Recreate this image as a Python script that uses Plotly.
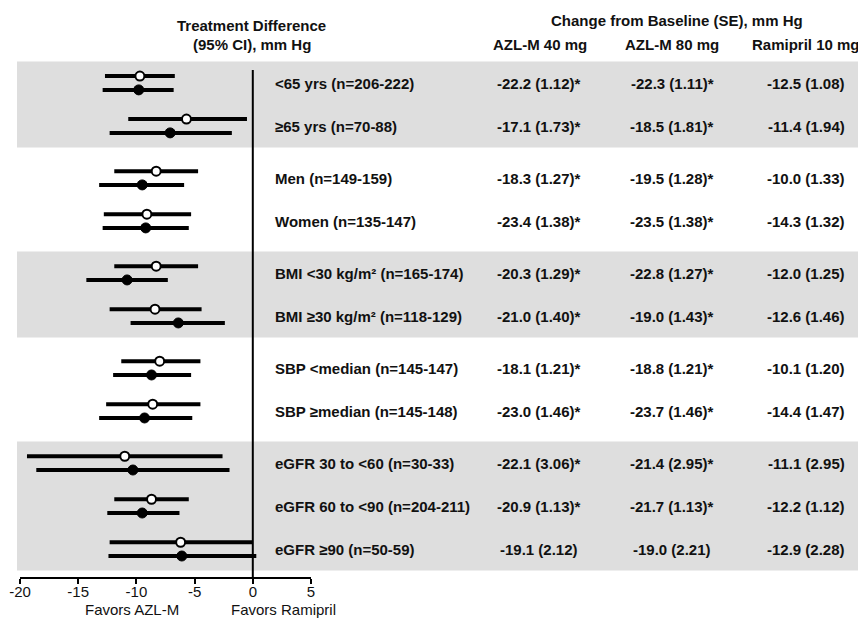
import plotly.graph_objects as go

# ---------------- data ----------------
subgroups = ["<65 yrs (n=206-222)", "≥65 yrs (n=70-88)",
             "Men (n=149-159)", "Women (n=135-147)",
             "BMI <30 kg/m² (n=165-174)", "BMI ≥30 kg/m² (n=118-129)",
             "SBP <median (n=145-147)", "SBP ≥median (n=145-148)",
             "eGFR 30 to <60 (n=30-33)", "eGFR 60 to <90 (n=204-211)", "eGFR ≥90 (n=50-59)"]
group_sizes = [2, 2, 2, 2, 3]
shaded_groups = [0, 2, 4]

# AZL-M 40 mg minus ramipril (open circles)
d40 = [-9.7, -5.7, -8.3, -9.1, -8.3, -8.4, -8.0, -8.6, -11.0, -8.7, -6.2]
d40_lo = [-12.7, -10.7, -11.9, -12.8, -11.9, -12.3, -11.3, -12.6, -19.4, -11.9, -12.3]
d40_hi = [-6.7, -0.5, -4.7, -5.3, -4.7, -4.4, -4.5, -4.5, -2.6, -5.5, 0.0]
# AZL-M 80 mg minus ramipril (filled circles)
d80 = [-9.8, -7.1, -9.5, -9.2, -10.8, -6.4, -8.7, -9.3, -10.3, -9.5, -6.1]
d80_lo = [-12.9, -12.3, -13.2, -12.9, -14.3, -10.5, -12.0, -13.2, -18.6, -12.5, -12.4]
d80_hi = [-6.8, -1.8, -5.9, -5.5, -7.3, -2.4, -5.3, -5.2, -2.0, -6.3, 0.3]

azl40 = ["-22.2 (1.12)*", "-17.1 (1.73)*", "-18.3 (1.27)*", "-23.4 (1.38)*", "-20.3 (1.29)*",
         "-21.0 (1.40)*", "-18.1 (1.21)*", "-23.0 (1.46)*", "-22.1 (3.06)*", "-20.9 (1.13)*", "-19.1 (2.12)"]
azl80 = ["-22.3 (1.11)*", "-18.5 (1.81)*", "-19.5 (1.28)*", "-23.5 (1.38)*", "-22.8 (1.27)*",
         "-19.0 (1.43)*", "-18.8 (1.21)*", "-23.7 (1.46)*", "-21.4 (2.95)*", "-21.7 (1.13)*", "-19.0 (2.21)"]
ram10 = ["-12.5 (1.08)", "-11.4 (1.94)", "-10.0 (1.33)", "-14.3 (1.32)", "-12.0 (1.25)",
         "-12.6 (1.46)", "-10.1 (1.20)", "-14.4 (1.47)", "-11.1 (2.95)", "-12.2 (1.12)", "-12.9 (2.28)"]

x_ticks = [-20, -15, -10, -5, 0, 5]
col_headers = ["AZL-M 40 mg", "AZL-M 80 mg", "Ramipril 10 mg"]

# ---------------- layout geometry ----------------
PAGE_OFF = 8            # default body margin of the html page
W, H = 866 - PAGE_OFF, 622 - PAGE_OFF
ROW_PX = 43.0
FIRST_PX = 83.0 - PAGE_OFF
AXIS_PX = 577.0 - PAGE_OFF
GAP = 0.21
OFF = 0.16

slots = []
group_bounds = []
pos = 0.0
for gi, n in enumerate(group_sizes):
    start = pos
    for k in range(n):
        slots.append(pos)
        pos += 1.0
    group_bounds.append((start, pos - 1.0))
    pos += GAP

y_bottom = (AXIS_PX - FIRST_PX) / ROW_PX
y_top = -FIRST_PX / ROW_PX

def py(px):
    # target page pixel -> y slot units
    return (px - PAGE_OFF - FIRST_PX) / ROW_PX

def pxx(px):
    # target page pixel -> paper x
    return (px - PAGE_OFF) / W

def pyp(px):
    # target page pixel -> paper y
    return (H - (px - PAGE_OFF)) / H

FONT = "Liberation Sans, Arial, Helvetica, sans-serif"

fig = go.Figure()

y_open = [s - OFF for s in slots]
y_fill = [s + OFF for s in slots]

fig.add_trace(go.Scatter(
    x=d40, y=y_open, mode="markers",
    marker=dict(symbol="circle", size=9, color="white", line=dict(color="black", width=2)),
    error_x=dict(type="data", symmetric=False,
                 array=[h - p for h, p in zip(d40_hi, d40)],
                 arrayminus=[p - l for p, l in zip(d40, d40_lo)],
                 thickness=4, width=0, color="black"),
    showlegend=False, hoverinfo="x"))
fig.add_trace(go.Scatter(
    x=d80, y=y_fill, mode="markers",
    marker=dict(symbol="circle", size=10, color="black", line=dict(color="black", width=1)),
    error_x=dict(type="data", symmetric=False,
                 array=[h - p for h, p in zip(d80_hi, d80)],
                 arrayminus=[p - l for p, l in zip(d80, d80_lo)],
                 thickness=4, width=0, color="black"),
    showlegend=False, hoverinfo="x"))

shapes = []
for gi in shaded_groups:
    a, b = group_bounds[gi]
    shapes.append(dict(type="rect", xref="paper", yref="y", x0=pxx(17), x1=1.0,
                       y0=a - 0.5, y1=b + 0.5, fillcolor="#dedede", line=dict(width=0), layer="below"))
shapes.append(dict(type="line", xref="x", yref="y", x0=0, x1=0, y0=py(70), y1=y_bottom,
                   line=dict(color="black", width=2)))

ann = []
lab_font = dict(family=FONT, size=15, color="#111111")
for i, s in enumerate(slots):
    ann.append(dict(x=pxx(273), y=s, xref="paper", yref="y", text="<b>%s</b>" % subgroups[i],
                    showarrow=False, xanchor="left", yanchor="middle", font=lab_font))
    for cx, col in zip([539, 672, 806], [azl40, azl80, ram10]):
        ann.append(dict(x=pxx(cx), y=s, xref="paper", yref="y", text="<b>%s</b>" % col[i],
                        showarrow=False, xanchor="center", yanchor="middle", font=lab_font))

ann.append(dict(x=pxx(252), y=py(25), xref="paper", yref="y", text="<b>Treatment Difference</b>",
                showarrow=False, xanchor="center", yanchor="middle", font=lab_font))
ann.append(dict(x=pxx(252), y=py(44), xref="paper", yref="y", text="<b>(95% CI), mm Hg</b>",
                showarrow=False, xanchor="center", yanchor="middle", font=lab_font))
ann.append(dict(x=pxx(677), y=py(20), xref="paper", yref="y", text="<b>Change from Baseline (SE), mm Hg</b>",
                showarrow=False, xanchor="center", yanchor="middle", font=lab_font))
for cx, h in zip([540, 672, 806], col_headers):
    ann.append(dict(x=pxx(cx), y=py(44), xref="paper", yref="y", text="<b>%s</b>" % h,
                    showarrow=False, xanchor="center", yanchor="middle", font=lab_font))

foot_font = dict(family=FONT, size=15, color="#111111")
ann.append(dict(x=pxx(132), y=pyp(609), xref="paper", yref="paper", text="Favors AZL-M",
                showarrow=False, xanchor="center", yanchor="middle", font=foot_font))
ann.append(dict(x=pxx(283), y=pyp(609), xref="paper", yref="paper", text="Favors Ramipril",
                showarrow=False, xanchor="center", yanchor="middle", font=foot_font))

fig.update_layout(
    width=W, height=H,
    margin=dict(l=0, r=0, t=0, b=0, autoexpand=False),
    paper_bgcolor="white", plot_bgcolor="rgba(0,0,0,0)",
    shapes=shapes, annotations=ann,
    xaxis=dict(domain=[pxx(20), pxx(311)], range=[-20, 5], tickvals=x_ticks,
               ticktext=[str(v) for v in x_ticks],
               showline=True, linecolor="black", linewidth=2, ticks="outside",
               ticklen=5, tickwidth=2, tickcolor="black", showgrid=False, zeroline=False,
               ticklabelstandoff=-5,
               tickfont=dict(family=FONT, size=15, color="#111111"), automargin=False,
               fixedrange=True),
    yaxis=dict(domain=[(H - AXIS_PX) / H, 1.0], range=[y_bottom, y_top], visible=False,
               showgrid=False, zeroline=False, automargin=False, fixedrange=True),
)

fig.write_html("out.html")
